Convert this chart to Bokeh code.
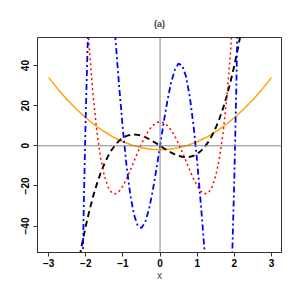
from bokeh.plotting import figure
from bokeh.models import Range1d, Span, Label
from bokeh.embed import file_html
from bokeh.resources import INLINE
import math

# H2 (orange, solid)
x2 = [-3.0, -2.75, -2.5, -2.25, -2.0, -1.75, -1.5, -1.25, -1.0, -0.75, -0.5, -0.25, 0.0,
      0.25, 0.5, 0.75, 1.0, 1.25, 1.5, 1.75, 2.0, 2.25, 2.5, 2.75, 3.0]
h2 = [34, 28.25, 23, 18.25, 14, 10.25, 7, 4.25, 2, 0.25, -1, -1.75, -2,
      -1.75, -1, 0.25, 2, 4.25, 7, 10.25, 14, 18.25, 23, 28.25, 34]

# H3 (black, dashed)
x3 = [-2.3, -2.2, -2.1, -2.0, -1.9, -1.8, -1.7, -1.6, -1.5, -1.4, -1.3, -1.2, -1.1, -1.0,
      -0.9, -0.8, -0.7, -0.6, -0.5, -0.4, -0.3, -0.2, -0.1, 0.0,
      0.1, 0.2, 0.3, 0.4, 0.5, 0.6, 0.7, 0.8, 0.9, 1.0, 1.1, 1.2, 1.3, 1.4,
      1.5, 1.6, 1.7, 1.8, 1.9, 2.0, 2.1, 2.2, 2.3]
h3 = [-69.736, -58.784, -48.888, -40, -32.072, -25.056, -18.904, -13.568, -9, -5.152,
      -1.976, 0.576, 2.552, 4, 4.968, 5.504, 5.656, 5.472, 5, 4.288, 3.384, 2.336, 1.192, 0,
      -1.192, -2.336, -3.384, -4.288, -5, -5.472, -5.656, -5.504, -4.968, -4, -2.552,
      -0.576, 1.976, 5.152, 9, 13.568, 18.904, 25.056, 32.072, 40, 48.888, 58.784, 69.736]

# H4 (red, dotted)
x4 = [-2.0, -1.9, -1.8, -1.7, -1.6, -1.5, -1.4, -1.3, -1.2, -1.1, -1.0,
      -0.9, -0.8, -0.7, -0.6, -0.5, -0.4, -0.3, -0.2, -0.1, 0.0,
      0.1, 0.2, 0.3, 0.4, 0.5, 0.6, 0.7, 0.8, 0.9, 1.0,
      1.1, 1.2, 1.3, 1.4, 1.5, 1.6, 1.7, 1.8, 1.9, 2.0]
h4 = [76, 47.234, 24.442, 6.914, -6.022, -15, -20.614, -23.422, -23.942, -22.654, -20,
      -16.382, -12.166, -7.678, -3.206, 1, 4.730, 7.810, 10.106, 11.522, 12,
      11.522, 10.106, 7.810, 4.730, 1, -3.206, -7.678, -12.166, -16.382, -20,
      -22.654, -23.942, -23.422, -20.614, -15, -6.022, 6.914, 24.442, 47.234, 76]

# H5 (blue, dot-dash)
x5 = [-2.2, -2.1, -2.05, -2.0, -1.95, -1.9, -1.8, -1.7, -1.6, -1.5, -1.4, -1.3, -1.2, -1.1,
      -1.0, -0.9, -0.8, -0.7, -0.6, -0.5, -0.4, -0.3, -0.2, -0.1, 0.0,
      0.1, 0.2, 0.3, 0.4, 0.5, 0.6, 0.7, 0.8, 0.9, 1.0,
      1.1, 1.2, 1.3, 1.4, 1.5, 1.6, 1.7, 1.8, 1.9, 1.95, 2.0, 2.05, 2.1, 2.2]
h5 = [-209.482, -77.152, -26.142, 16, 50.138, 77.088, 112.458, 127.726, 127.816, 117,
      98.936, 76.706, 52.854, 29.424, 8, -10.256, -24.566, -34.498, -39.928, -41,
      -38.088, -31.758, -22.730, -11.840, 0,
      11.840, 22.730, 31.758, 38.088, 41, 39.928, 34.498, 24.566, 10.256, -8,
      -29.424, -52.854, -76.706, -98.936, -117, -127.816, -127.726, -112.458, -77.088,
      -50.138, -16, 26.142, 77.152, 209.482]

x_ticks = [-3, -2, -1, 0, 1, 2, 3]
y_ticks = [-40, -20, 0, 20, 40]

FONT = "Liberation Sans"

p = figure(width=284, height=284, output_backend="svg", toolbar_location=None,
           x_range=Range1d(-3.3, 3.27), y_range=Range1d(-53.2, 54),
           min_border_left=37, min_border_right=3, min_border_top=37, min_border_bottom=32,
           title="(a)")

p.title.align = "center"
p.title.text_font = FONT
p.title.text_font_size = "9px"
p.title.text_font_style = "bold"
p.title.standoff = 18

p.grid.visible = False
p.outline_line_color = "#333333"
p.outline_line_width = 1
p.background_fill_color = "white"
p.border_fill_color = "white"

p.xaxis.ticker = x_ticks
p.yaxis.ticker = y_ticks
for ax in (p.xaxis, p.yaxis):
    ax.axis_line_color = "#333333"
    ax.major_tick_line_color = "#333333"
    ax.major_tick_out = 4
    ax.major_tick_in = 0
    ax.minor_tick_line_color = None
    ax.major_label_text_font = FONT
    ax.major_label_text_font_size = "10px"
    ax.major_label_text_font_style = "bold"
    ax.major_label_text_color = "black"
    ax.major_label_standoff = 2
p.yaxis.major_label_orientation = "vertical"
p.yaxis.major_label_standoff = 4

p.xaxis.axis_label = "x"
p.xaxis.axis_label_text_font = FONT
p.xaxis.axis_label_text_font_size = "10px"
p.xaxis.axis_label_text_font_style = "normal"
p.xaxis.axis_label_standoff = 0

p.add_layout(Label(x=-3.98, y=0, text="Hₙ", angle=math.pi / 2,
                   text_align="center", text_baseline="middle",
                   text_font=FONT, text_font_size="10px", text_color="black"))

p.add_layout(Span(location=0, dimension="width", line_color="#888888", line_width=1))
p.add_layout(Span(location=0, dimension="height", line_color="#888888", line_width=1))

p.line(x2, h2, line_color="#FFA500", line_width=1.5)
p.line(x3, h3, line_color="black", line_width=1.9, line_dash="6 4")
p.line(x4, h4, line_color="#FF0000", line_width=1.5, line_dash="2 3")
p.line(x5, h5, line_color="#0000FF", line_width=1.8, line_dash="6 3 2 3")

open("out.html", "w").write(file_html(p, INLINE))
